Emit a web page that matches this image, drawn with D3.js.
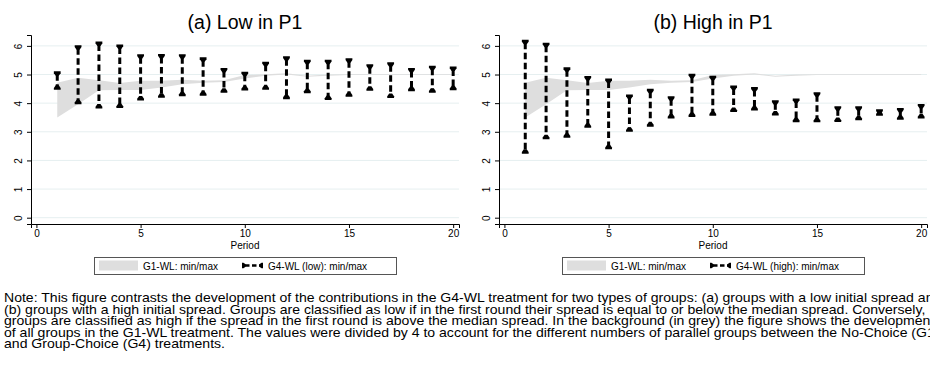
<!DOCTYPE html>
<html><head><meta charset="utf-8">
<script src="https://cdn.jsdelivr.net/npm/d3@7"></script>
<style>body{margin:0;background:#fff;overflow:hidden}svg{display:block}text{font-family:"Liberation Sans",Arial,Helvetica,sans-serif}</style>
</head><body>
<svg id="c" width="930" height="366"></svg>
<script>
const periods = [1,2,3,4,5,6,7,8,9,10,11,12,13,14,15,16,17,18,19,20];
const xTicks = [0,5,10,15,20];
const yTicks = [0,1,2,3,4,5,6];
const g1Max = [4.71,4.89,4.80,4.70,4.78,4.78,4.82,4.78,4.80,4.98,5.01,5.04,4.96,5.00,5.01,5.01,5.01,5.01,5.01,5.01];
const g1Min = [3.50,3.96,4.45,4.46,4.46,4.55,4.66,4.71,4.74,4.86,4.96,5.00,4.92,4.96,4.98,4.98,4.98,4.98,4.98,4.98];
const lowMax = [5.11,6.02,6.15,6.05,5.71,5.72,5.71,5.60,5.23,5.10,5.45,5.64,5.52,5.52,5.57,5.36,5.43,5.23,5.31,5.28];
const lowMin = [4.47,3.96,3.81,3.83,4.09,4.19,4.24,4.26,4.36,4.44,4.47,4.14,4.35,4.11,4.22,4.43,4.18,4.42,4.36,4.45];
const highMax = [6.21,6.11,5.25,4.95,4.86,4.30,4.50,4.24,5.03,4.96,4.62,4.56,4.10,4.16,4.38,3.89,3.89,3.79,3.83,3.97];
const highMin = [2.23,2.74,2.79,3.14,2.39,3.00,3.18,3.46,3.52,3.56,3.69,3.74,3.57,3.33,3.33,3.34,3.40,3.56,3.42,3.46];
const panels = [
  {title:"(a) Low in P1", max:lowMax, min:lowMin, legend:"G4-WL (low): min/max"},
  {title:"(b) High in P1", max:highMax, min:highMin, legend:"G4-WL (high): min/max"}
];
const noteLines = [
 "Note: This figure contrasts the development of the contributions in the G4-WL treatment for two types of groups: (a) groups with a low initial spread and",
 "(b) groups with a high initial spread. Groups are classified as low if in the first round their spread is equal to or below the median spread. Conversely,",
 "groups are classified as high if the spread in the first round is above the median spread. In the background (in grey) the figure shows the development",
 "of all groups in the G1-WL treatment. The values were divided by 4 to account for the different numbers of parallel groups between the No-Choice (G1)",
 "and Group-Choice (G4) treatments."
];

const svg = d3.select("#c");
const grid = "#e6eff0", band = "#dedede";

function capPath(x, y, dir){
  const h = 1.8*dir, t = 4.5*dir;
  return `M${x-3.4},${y}L${x+3.4},${y}L${x+3.4},${y+h}L${x+1.5},${y+t}L${x-1.5},${y+t}L${x-3.4},${y+h}Z`;
}

panels.forEach((p, i) => {
  const off = i*468;
  const g = svg.append("g");
  const x = d3.scaleLinear().domain([-0.26, 20.28]).range([31+off, 459+off]);
  const y = d3.scaleLinear().domain([-0.22, 6.38]).range([224, 35]);

  g.selectAll(".gl").data(yTicks).join("line")
    .attr("x1", x.range()[0]).attr("x2", x.range()[1])
    .attr("y1", d=>y(d)).attr("y2", d=>y(d))
    .attr("stroke", grid).attr("stroke-width", 1);

  const area = d3.area().x((d,j)=>x(periods[j])).y0((d,j)=>y(g1Min[j])).y1((d,j)=>y(g1Max[j]));
  g.append("path").datum(periods).attr("d", area).attr("fill", band);

  const xa = g.append("g").attr("transform","translate(0,224)")
    .call(d3.axisBottom(x).tickValues(xTicks).tickFormat(d3.format("d")).tickSizeOuter(0).tickSize(4).tickPadding(2));
  const ya = g.append("g").attr("transform",`translate(${31+off},0)`)
    .call(d3.axisLeft(y).tickValues(yTicks).tickFormat(d3.format("d")).tickSizeOuter(0).tickSize(4));
  [xa, ya].forEach(a => { a.selectAll("path,line").attr("stroke","#000").attr("stroke-width",1); a.selectAll("text").attr("font-size",10).attr("fill","#000").style("font-family",'"Liberation Sans",Arial,sans-serif'); });
  xa.selectAll("text").attr("dy","0.71em");
  ya.selectAll(".tick text").attr("x",null).attr("dy","0em").attr("y",0).attr("text-anchor","middle")
    .attr("transform","translate(-9,0) rotate(-90)");

  periods.forEach((t,j) => {
    const cx = x(t), y1 = y(p.max[j]), y2 = y(p.min[j]);
    g.append("line").attr("x1",cx).attr("x2",cx).attr("y1",y1+3).attr("y2",y2-3)
      .attr("stroke","#000").attr("stroke-width",3).attr("stroke-dasharray","6.5,3.5");
    g.append("path").attr("d",capPath(cx,y1,1)).attr("fill","#000");
    g.append("path").attr("d",capPath(cx,y2,-1)).attr("fill","#000");
  });

  g.append("text").attr("x", (x.range()[0]+x.range()[1])/2).attr("y", 29).attr("text-anchor","middle")
    .attr("font-size",19.5).text(p.title);
  g.append("text").attr("x", (x.range()[0]+x.range()[1])/2).attr("y", 248.5).attr("text-anchor","middle")
    .attr("font-size",10).text("Period");

  const lg = g.append("g").attr("transform",`translate(${94+off},257)`);
  lg.append("rect").attr("x",0.5).attr("y",0.5).attr("width",302).attr("height",17)
    .attr("fill","#fff").attr("stroke","#555").attr("stroke-width",1);
  lg.append("rect").attr("x",5).attr("y",3.5).attr("width",39).attr("height",10).attr("fill",band);
  lg.append("text").attr("x",49).attr("y",12.5).attr("font-size",10).text("G1-WL: min/max");
  const sx1 = 148, sx2 = 169, sy = 8.5;
  lg.append("line").attr("x1",sx1+3).attr("x2",sx2-3).attr("y1",sy).attr("y2",sy)
    .attr("stroke","#000").attr("stroke-width",2.5).attr("stroke-dasharray","4.5,2.5");
  lg.append("path").attr("d",capPath(0,0,1)).attr("fill","#000").attr("transform",`translate(${sx1},${sy}) rotate(-90) scale(0.8)`);
  lg.append("path").attr("d",capPath(0,0,-1)).attr("fill","#000").attr("transform",`translate(${sx2},${sy}) rotate(-90) scale(0.8)`);
  lg.append("text").attr("x",174).attr("y",12.5).attr("font-size",10).text(p.legend);
});

// note: 12px text, stretched horizontally so line 2 ends where the reference's does
const nt = svg.append("g");
const lines = nt.selectAll("text").data(noteLines).join("text")
  .attr("x",0).attr("y",0).attr("font-size",12)
  .style("white-space","pre").text(d=>d);
const w = lines.nodes()[1].getComputedTextLength();
const sx = w > 0 ? Math.max(0.9, Math.min(1.2, 922/w)) : 1;
lines.attr("transform",(d,i)=>`translate(4,${302+i*11.6}) scale(${sx},1)`);
</script>
</body></html>
